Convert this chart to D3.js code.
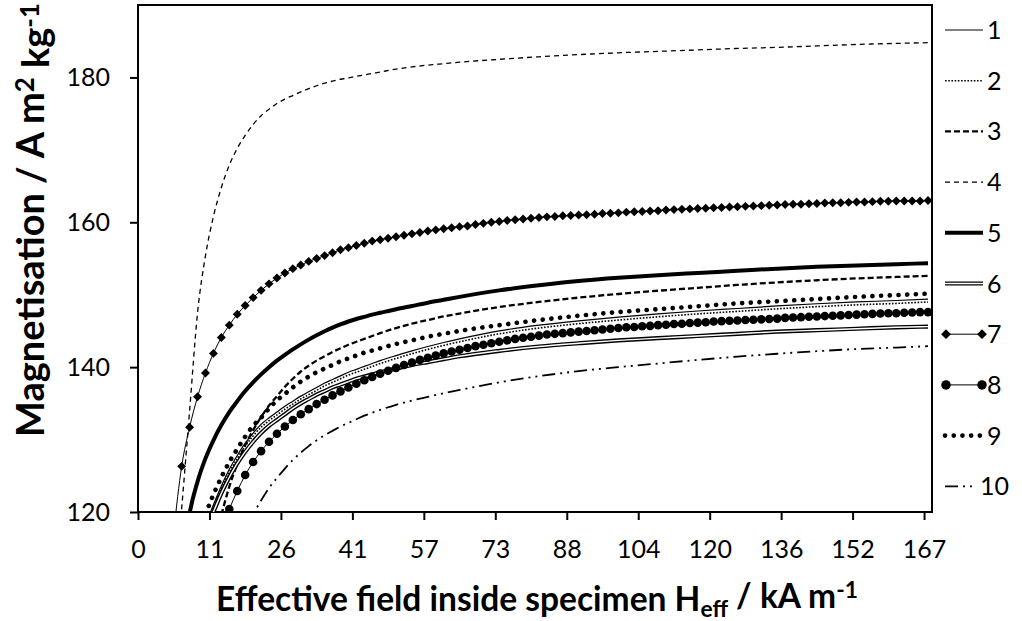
<!DOCTYPE html>
<html lang="en">
<head>
<meta charset="UTF-8">
<title>Magnetisation vs effective field</title>
<script src="https://d3js.org/d3.v7.min.js"></script>
<style>
  body { margin: 0; background: #fff; font-family: Lato, 'Open Sans', sans-serif; }
  svg { display: block; }
  .tick text { font-family: Lato, sans-serif; font-size: 25px; fill: #000; }
</style>
</head>
<body>
<script>
// x axis: category positions (0..99), a label every 9th category
const tickLabels = ["0", "11", "26", "41", "57", "73", "88", "104", "120", "136", "152", "167"];
const yTicks = [120, 140, 160, 180];

const gridIdx = [4, 5, 6, 7, 8, 9, 10, 11, 12, 13, 14, 15, 16, 17, 18, 19, 20, 21, 22, 23, 24, 25, 26, 27,
  28, 29, 30, 32, 34, 36, 38, 40, 45, 50, 55, 60, 65, 70, 75, 80, 85, 90, 95, 99];

const s1 = [null, null, null, null, 118.2, 121.0, 123.6, 125.9, 127.8, 129.5, 130.9, 132.1, 133.0, 133.8, 134.6,
  135.3, 136.0, 136.6, 137.2, 137.8, 138.3, 138.8, 139.3, 139.7, 140.1, 140.5, 140.9, 141.6, 142.25, 142.85, 143.4,
  143.9, 145.0, 145.8, 146.4, 146.9, 147.35, 147.75, 148.1, 148.45, 148.75, 149.0, 149.2, 149.4];
const s2 = [null, null, null, null, 117.9, 120.6, 123.2, 125.5, 127.4, 129.1, 130.5, 131.7, 132.6, 133.4, 134.2,
  134.9, 135.6, 136.2, 136.8, 137.4, 137.9, 138.4, 138.9, 139.3, 139.7, 140.1, 140.5, 141.2, 141.85, 142.45, 143.0,
  143.5, 144.6, 145.4, 146.0, 146.5, 146.95, 147.35, 147.7, 148.05, 148.35, 148.6, 148.8, 149.0];
const s3 = [null, null, null, null, null, null, 119.6, 123.5, 126.6, 129.2, 131.3, 133.1, 134.7, 136.0, 137.3,
  138.4, 139.4, 140.2, 140.9, 141.5, 142.1, 142.6, 143.1, 143.5, 143.9, 144.3, 144.7, 145.4, 146.0, 146.5, 147.0,
  147.4, 148.3, 149.0, 149.6, 150.1, 150.55, 150.95, 151.35, 151.7, 152.0, 152.25, 152.45, 152.6];
const s4 = [108.0, 120.5, 134.0, 147.5, 155.4, 160.8, 164.8, 167.9, 170.2, 172.0, 173.5, 174.7, 175.6, 176.4,
  177.0, 177.5, 178.0, 178.45, 178.85, 179.2, 179.5, 179.75, 179.95, 180.15, 180.35, 180.55, 180.75, 181.15, 181.45,
  181.7, 181.9, 182.1, 182.5, 182.85, 183.15, 183.4, 183.6, 183.8, 184.0, 184.15, 184.35, 184.55, 184.7, 184.8];
const s5 = [null, 112.0, 119.8, 124.2, 127.4, 129.9, 132.0, 133.8, 135.3, 136.7, 137.9, 139.0, 140.0, 140.9,
  141.7, 142.45, 143.15, 143.8, 144.4, 144.95, 145.45, 145.9, 146.3, 146.65, 146.95, 147.25, 147.5, 148.0, 148.45,
  148.9, 149.3, 149.7, 150.6, 151.3, 151.9, 152.35, 152.7, 153.0, 153.3, 153.6, 153.85, 154.05, 154.22, 154.35];
const s6 = [null, null, null, null, 117.5, 120.0, 122.6, 124.8, 126.7, 128.3, 129.7, 130.9, 131.9, 132.7, 133.5,
  134.3, 135.0, 135.6, 136.2, 136.7, 137.2, 137.6, 138.0, 138.4, 138.7, 139.0, 139.3, 139.8, 140.3, 140.7, 141.1,
  141.5, 142.25, 142.85, 143.3, 143.7, 144.0, 144.3, 144.6, 144.9, 145.1, 145.3, 145.5, 145.6];
const s9 = [null, null, null, null, 119.7, 122.4, 124.8, 126.9, 128.7, 130.4, 131.9, 133.0, 134.3, 135.4, 136.3,
  137.2, 138.0, 138.7, 139.3, 139.8, 140.3, 140.8, 141.2, 141.6, 142.0, 142.3, 142.6, 143.2, 143.7, 144.2, 144.6,
  145.0, 145.8, 146.5, 147.1, 147.6, 148.0, 148.4, 148.8, 149.1, 149.4, 149.7, 149.95, 150.15];
const s10 = [null, null, null, null, null, null, null, null, null, 117.6, 119.7, 121.6, 123.3, 124.7, 126.0,
  127.2, 128.2, 129.1, 129.9, 130.6, 131.2, 131.8, 132.3, 132.8, 133.3, 133.7, 134.1, 134.8, 135.4, 135.9, 136.4,
  136.85, 137.9, 138.75, 139.45, 140.0, 140.5, 141.0, 141.45, 141.85, 142.2, 142.5, 142.7, 142.9];

// marker series: one value per category, starting at the given category
const s7Start = 4;
const s7 = [117.3, 126.3, 131.7, 135.9, 139.2, 141.9, 144.1, 145.8, 147.3, 148.5,
  149.6, 150.6, 151.5, 152.3, 153.0, 153.6, 154.1, 154.6, 155.0, 155.4,
  155.8, 156.2, 156.5, 156.8, 157.1, 157.4, 157.6, 157.8, 158.0, 158.2,
  158.4, 158.6, 158.8, 158.95, 159.1, 159.25, 159.4, 159.5, 159.7, 159.85,
  160.0, 160.1, 160.25, 160.35, 160.45, 160.55, 160.65, 160.75, 160.8, 160.9,
  160.95, 161.0, 161.05, 161.1, 161.2, 161.25, 161.3, 161.4, 161.45, 161.5,
  161.55, 161.6, 161.7, 161.75, 161.8, 161.85, 161.9, 161.95, 162.0, 162.05,
  162.1, 162.15, 162.2, 162.25, 162.3, 162.35, 162.4, 162.45, 162.5, 162.5,
  162.55, 162.6, 162.65, 162.7, 162.7, 162.75, 162.8, 162.8, 162.85, 162.9,
  162.9, 162.95, 162.95, 162.95, 162.95, 163.0];
const s8Start = 10;
const s8 = [117.6, 120.4, 122.9, 125.1, 126.9, 128.4, 129.7, 130.8, 131.8, 132.7,
  133.5, 134.2, 134.9, 135.5, 136.1, 136.65, 137.2, 137.7, 138.2, 138.65,
  139.1, 139.5, 139.9, 140.3, 140.65, 141.0, 141.3, 141.6, 141.9, 142.15,
  142.4, 142.65, 142.9, 143.1, 143.3, 143.5, 143.7, 143.9, 144.05, 144.2,
  144.35, 144.5, 144.6, 144.7, 144.8, 144.9, 145.0, 145.1, 145.2, 145.3,
  145.4, 145.5, 145.55, 145.65, 145.7, 145.8, 145.85, 145.95, 146.0, 146.1,
  146.15, 146.2, 146.3, 146.35, 146.4, 146.45, 146.5, 146.55, 146.6, 146.65,
  146.7, 146.8, 146.85, 146.9, 146.95, 147.0, 147.05, 147.1, 147.15, 147.2,
  147.25, 147.3, 147.35, 147.4, 147.45, 147.45, 147.5, 147.55, 147.6, 147.6];

const toPoints = (idx, vals) => idx.map((c, i) => ({ c, v: vals[i] })).filter(d => d.v != null);
const seqIdx = (start, vals) => d3.range(start, start + vals.length);

const series = [
  { name: "1", pts: toPoints(gridIdx, s1), width: 1.2 },
  { name: "2", pts: toPoints(gridIdx, s2), width: 1.6, dash: "1.6 1.6" },
  { name: "3", pts: toPoints(gridIdx, s3), width: 2.3, dash: "6 3" },
  { name: "4", pts: toPoints(gridIdx, s4), width: 1.3, dash: "5 4" },
  { name: "5", pts: toPoints(gridIdx, s5), width: 4 },
  { name: "6", pts: toPoints(gridIdx, s6), width: 4.2, double: true },
  { name: "7", pts: toPoints(seqIdx(s7Start, s7), s7), width: 1, marker: "diamond" },
  { name: "8", pts: toPoints(seqIdx(s8Start, s8), s8), width: 1, marker: "circle" },
  { name: "9", pts: toPoints(gridIdx, s9), width: 4.6, dash: "0.1 8.6", cap: "round" },
  { name: "10", pts: toPoints(gridIdx, s10), width: 1.8, dash: "13 5 2 5 2 5" }
];

const W = 1022, H = 621;
const plot = { left: 138, right: 932, top: 5, bottom: 512 };

const x = d3.scaleLinear().domain([-0.5, 99.5]).range([plot.left, plot.right]);
const y = d3.scaleLinear().domain([120, 190]).range([plot.bottom, plot.top]);

const svg = d3.select("body").append("svg").attr("width", W).attr("height", H);

svg.append("clipPath").attr("id", "clip")
  .append("rect")
  .attr("x", plot.left).attr("y", plot.top)
  .attr("width", plot.right - plot.left).attr("height", plot.bottom - plot.top);

// axes
const xAxis = d3.axisBottom(x)
  .tickValues(tickLabels.map((_, k) => k * 9 - 0.5))
  .tickFormat((d, k) => tickLabels[k])
  .tickSize(8).tickPadding(20);
const gx = svg.append("g").attr("transform", `translate(0,${plot.bottom})`).call(xAxis);

const yAxis = d3.axisLeft(y).tickValues(yTicks).tickSize(8).tickPadding(20);
const gy = svg.append("g").attr("transform", `translate(${plot.left},0)`).call(yAxis);

[gx, gy].forEach(g => {
  g.select(".domain").remove();
  g.selectAll(".tick line").attr("stroke", "#000").attr("stroke-width", 2);
});

// plot border
svg.append("rect")
  .attr("x", plot.left).attr("y", plot.top)
  .attr("width", plot.right - plot.left).attr("height", plot.bottom - plot.top)
  .attr("fill", "none").attr("stroke", "#000").attr("stroke-width", 2);

const line = d3.line().x(d => x(d.c)).y(d => y(d.v)).curve(d3.curveMonotoneX);
const diamond = d3.symbol(d3.symbolSquare, 40)();

const gPlot = svg.append("g").attr("clip-path", "url(#clip)");

function strokeStyle(sel, s) {
  sel.attr("fill", "none").attr("stroke", "#000")
    .attr("stroke-width", s.width)
    .attr("stroke-dasharray", s.dash || null)
    .attr("stroke-linecap", s.cap || "butt")
    .attr("stroke-linejoin", "round");
}

function drawMarker(g, s, cx, cy, scale) {
  if (s.marker === "diamond") {
    g.append("path").attr("d", diamond)
      .attr("transform", `translate(${cx},${cy}) rotate(45) scale(${scale})`)
      .attr("fill", "#000");
  } else if (s.marker === "circle") {
    g.append("circle").attr("cx", cx).attr("cy", cy).attr("r", 4.3 * scale).attr("fill", "#000");
  }
}

series.forEach(s => {
  gPlot.append("path").datum(s.pts).attr("d", line).call(strokeStyle, s);
  if (s.double) {
    gPlot.append("path").datum(s.pts).attr("d", line)
      .attr("fill", "none").attr("stroke", "#fff").attr("stroke-width", 1.4);
  }
  if (s.marker) {
    s.pts.forEach(d => drawMarker(gPlot, s, x(d.c), y(d.v), 1));
  }
});

// legend
const legend = svg.append("g");
series.forEach((s, k) => {
  const ly = 30 + k * 50.7;
  const x1 = 945, x2 = s.name === "10" ? 974 : 983;
  const g = legend.append("g");
  g.append("line").attr("x1", x1).attr("x2", x2).attr("y1", ly).attr("y2", ly).call(strokeStyle, s);
  if (s.double) {
    g.append("line").attr("x1", x1).attr("x2", x2).attr("y1", ly).attr("y2", ly)
      .attr("stroke", "#fff").attr("stroke-width", 1.4);
  }
  if (s.marker) {
    drawMarker(g, s, x1 + 1, ly, 1.1);
    drawMarker(g, s, x2 - 1, ly, 1.1);
  }
  g.append("text")
    .attr("x", s.name === "10" ? 980 : 987).attr("y", ly + 9)
    .attr("font-size", 25).attr("fill", "#000")
    .text(s.name);
});

// axis titles, sized to the width they take in the chart
function fitWidth(text, target) {
  const w = text.node().getBBox().width;
  const fs = parseFloat(text.attr("font-size"));
  text.attr("font-size", fs * target / w);
}

const xTitle = svg.append("text")
  .attr("x", 537).attr("y", 611)
  .attr("text-anchor", "middle")
  .attr("font-weight", "bold").attr("font-size", 34).attr("fill", "#000");
xTitle.append("tspan").text("Effective field inside specimen H");
xTitle.append("tspan").attr("dy", "0.25em").attr("font-size", "0.68em").text("eff");
xTitle.append("tspan").attr("dy", "-0.25em").text(" / kA m");
xTitle.append("tspan").attr("dy", "-0.45em").attr("font-size", "0.68em").text("-1");
fitWidth(xTitle, 642);

const yTitle = svg.append("text")
  .attr("transform", "translate(44,220) rotate(-90)")
  .attr("text-anchor", "middle")
  .attr("font-weight", "bold").attr("font-size", 36).attr("fill", "#000");
yTitle.append("tspan").text("Magnetisation / A m");
yTitle.append("tspan").attr("dy", "-0.4em").attr("font-size", "0.68em").text("2");
yTitle.append("tspan").attr("dy", "0.4em").text(" kg");
yTitle.append("tspan").attr("dy", "-0.4em").attr("font-size", "0.68em").text("-1");
fitWidth(yTitle, 434);
</script>
</body>
</html>
